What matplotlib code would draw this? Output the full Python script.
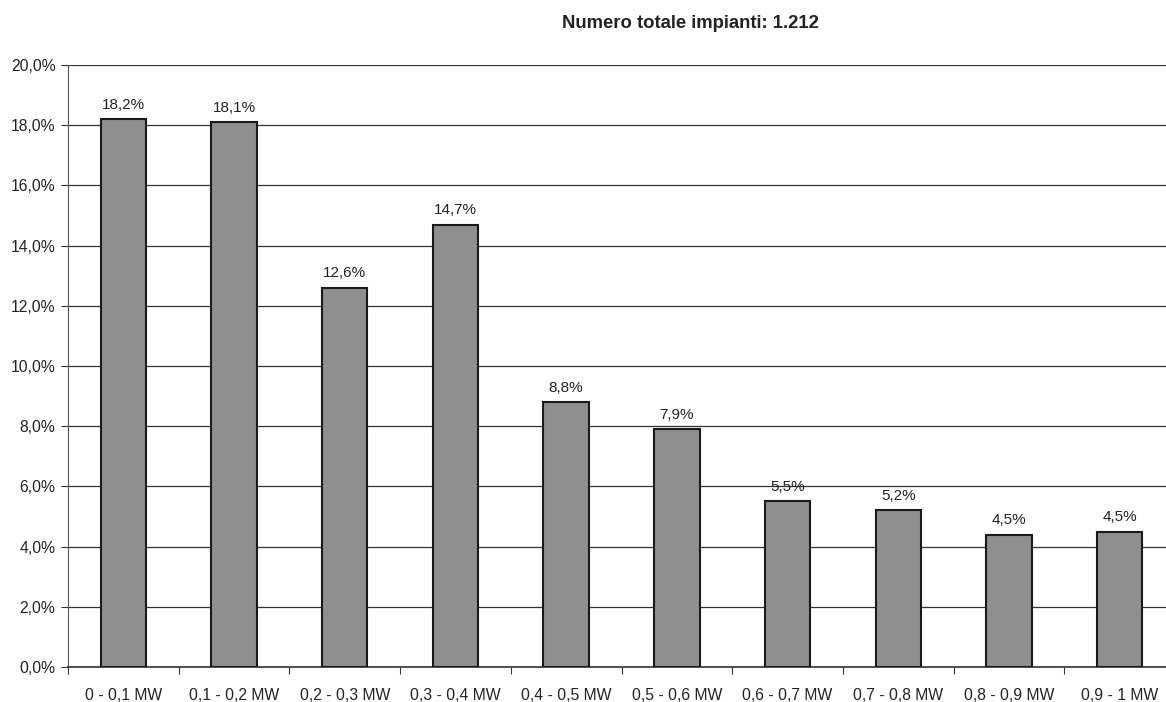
import matplotlib.pyplot as plt
import numpy as np

plt.rcParams['font.family'] = ['Liberation Sans', 'DejaVu Sans']

# chart data
categories = ['0 - 0,1 MW', '0,1 - 0,2 MW', '0,2 - 0,3 MW', '0,3 - 0,4 MW',
              '0,4 - 0,5 MW', '0,5 - 0,6 MW', '0,6 - 0,7 MW', '0,7 - 0,8 MW',
              '0,8 - 0,9 MW', '0,9 - 1 MW']
values = [18.2, 18.1, 12.6, 14.7, 8.8, 7.9, 5.5, 5.2, 4.4, 4.5]
bar_labels = ['18,2%', '18,1%', '12,6%', '14,7%', '8,8%', '7,9%',
              '5,5%', '5,2%', '4,5%', '4,5%']
yticks = [0, 2, 4, 6, 8, 10, 12, 14, 16, 18, 20]
title = 'Numero totale impianti: 1.212'

fig = plt.figure(figsize=(11.66, 7.02), dpi=100)
# axes run past the right edge, as in the cropped original
ax = fig.add_axes([68 / 1166, 35 / 702, 1107 / 1166, 602 / 702])

x = np.arange(len(categories))
ax.bar(x, values, width=0.41, color='#8f8f8f', edgecolor='#1a1a1a',
       linewidth=1.5, zorder=3)

for xi, v, lab in zip(x, values, bar_labels):
    ax.text(xi, v + 0.25, lab, ha='center', va='bottom', fontsize=11,
            color='#222222')

ax.set_xlim(-0.5, len(categories) - 0.5)
ax.set_ylim(0, 20)
ax.set_yticks(yticks)
ax.set_yticklabels([f'{t:.1f}%'.replace('.', ',') for t in yticks],
                   fontsize=11.3, color='#222222')
ax.yaxis.grid(True, color='#333333', linewidth=0.9, zorder=0)

# category labels between boundary ticks
ax.set_xticks(np.arange(-0.5, len(categories), 1.0))
ax.set_xticklabels([])
ax.set_xticks(x, minor=True)
ax.set_xticklabels(categories, minor=True, fontsize=11.3, color='#222222')
ax.tick_params(axis='x', which='minor', length=0, pad=15)
ax.tick_params(axis='x', which='major', length=5, color='#333333')
ax.tick_params(axis='y', length=5, color='#333333', pad=4)

for s in ['top', 'right']:
    ax.spines[s].set_visible(False)
ax.spines['left'].set_color('#555555')
ax.spines['bottom'].set_color('#333333')
ax.spines['bottom'].set_linewidth(1.2)

fig.text(690 / 1166, 1 - 24 / 702, title, ha='center', va='center',
         fontsize=13.3, fontweight='bold', color='#222222')

fig.savefig('out.png', dpi=100)
